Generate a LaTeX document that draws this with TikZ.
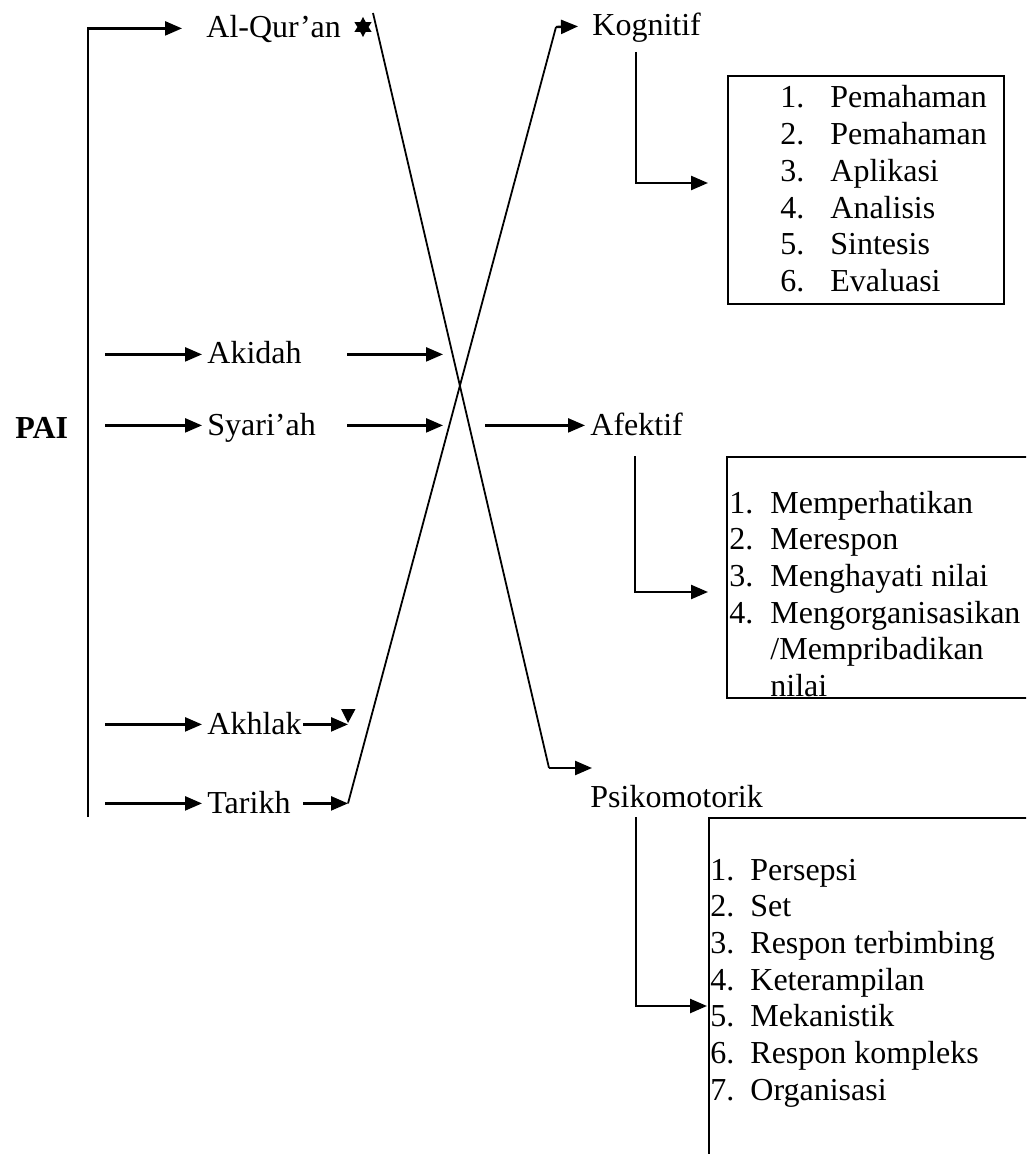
\documentclass[tikz,border=0pt]{standalone}
\usepackage{fontspec}
\setmainfont{Liberation Serif}
\usetikzlibrary{arrows.meta,shapes.geometric}

\begin{document}
\begin{tikzpicture}[x=0.5pt,y=-0.5pt]
   \tikzstyle{every node}=[font=\fontsize{16}{18.35}\selectfont]
   \tikzstyle{item}=[anchor=base west, inner xsep=2.5pt, inner ysep=0pt, text height=11.2pt, text depth=1.6pt]
   \tikzstyle{list}=[anchor=base west, inner sep=0pt]
   \tikzstyle{box}=[draw, line width=1.2pt, anchor=north west, inner sep=0pt]
   \tikzstyle{arr}=[-{Triangle[length=8.5pt,width=7pt]}, line width=1.2pt]
   \tikzstyle{cross}=[line width=0.9pt]

   \useasboundingbox (0,0) rectangle (1026,1154);
   \clip (0,0) rectangle (1026,1154);

\node[list] (pai) at (15,438) {\textbf{PAI}};

\node[item] (quran) at (201,38) {Al-Qur’an};
\node[item] (akidah) at (202,364) {Akidah};
\node[item] (syariah) at (202,435) {Syari’ah};
\node[item] (akhlak) at (202,734) {Akhlak};
\node[item] (tarikh) at (202,813) {Tarikh};

\node[item] (kognitif) at (587,36) {Kognitif};
\node[item] (afektif) at (585,435) {Afektif};
\node[item] (psiko) at (585,807) {Psikomotorik};

\node[box, minimum width=138pt, minimum height=114pt] (kogbox) at (727,75) {};
\node[box, minimum width=200pt, minimum height=120.5pt] (afkbox) at (726,456) {};
\node[box, minimum width=200pt, minimum height=200pt] (psibox) at (708,817) {};

\node[list] (koglist) at (780,108) {\begin{tabular}[t]{@{}p{25pt}@{}l@{}}
    1. & Pemahaman\\
    2. & Pemahaman\\
    3. & Aplikasi\\
    4. & Analisis\\
    5. & Sintesis\\
    6. & Evaluasi
  \end{tabular}};
\node[list] (afklist) at (729,513) {\begin{tabular}[t]{@{}p{20.5pt}@{}l@{}}
    1. & Memperhatikan\\
    2. & Merespon\\
    3. & Menghayati nilai\\
    4. & Mengorganisasikan\\
       & /Mempribadikan\\
       & nilai
  \end{tabular}};
\node[list] (psilist) at (710,880) {\begin{tabular}[t]{@{}p{20pt}@{}l@{}}
    1. & Persepsi\\
    2. & Set\\
    3. & Respon terbimbing\\
    4. & Keterampilan\\
    5. & Mekanistik\\
    6. & Respon kompleks\\
    7. & Organisasi
  \end{tabular}};

\node[star, star points=6, star point ratio=1.8, fill, inner sep=0pt, minimum size=10pt] (qstar) at (363,27) {};
\fill (341,709) -- (355.5,709) -- (348,723) -- cycle;

\coordinate (bot) at (88,817);
\coordinate (mid-a) at (347,0);
\coordinate (mid-b) at (443,0);
\coordinate (afk-a) at (485,0);
\coordinate (rgt-a) at (303,0);
\coordinate (rgt-b) at (348,0);
\coordinate (q1) at (373,13);
\coordinate (p1) at (549,768);
\coordinate (p2) at (592,768);
\coordinate (k1) at (556,27);
\coordinate (kog-a) at (636,52);
\coordinate (kog-b) at (708,183);
\coordinate (afk-c) at (635,456);
\coordinate (afk-d) at (708,592);
\coordinate (psi-a) at (636,817);
\coordinate (psi-b) at (707,1006);

\draw[arr] (bot) |- ([xshift=-9.5pt]quran.west);
\foreach \n in {akidah,syariah,akhlak,tarikh}
    \draw[arr] ([xshift=-48.5pt]\n.west) -- (\n.west);

\draw[arr] (akidah.east -| mid-a) -- (akidah.east -| mid-b);
\draw[arr] (syariah.east -| mid-a) -- (syariah.east -| mid-b);
\draw[arr] (afektif.west -| afk-a) -- (afektif.west);
\draw[arr] (akhlak.east -| rgt-a) -- (akhlak.east -| rgt-b);
\draw[arr] (tarikh.east -| rgt-a) -- (tarikh.east -| rgt-b);

\draw[cross] (q1) -- (p1);
\draw[arr] (p1) -- (p2);
\draw[cross] (tarikh.east -| rgt-b) -- (k1);
\draw[arr] (k1) -- ([xshift=-4.5pt]kognitif.west);

\draw[arr] (kog-a) |- (kog-b);
\draw[arr] (afk-c) |- (afk-d);
\draw[arr] (psi-a) |- (psi-b);

\end{tikzpicture}
\end{document}
